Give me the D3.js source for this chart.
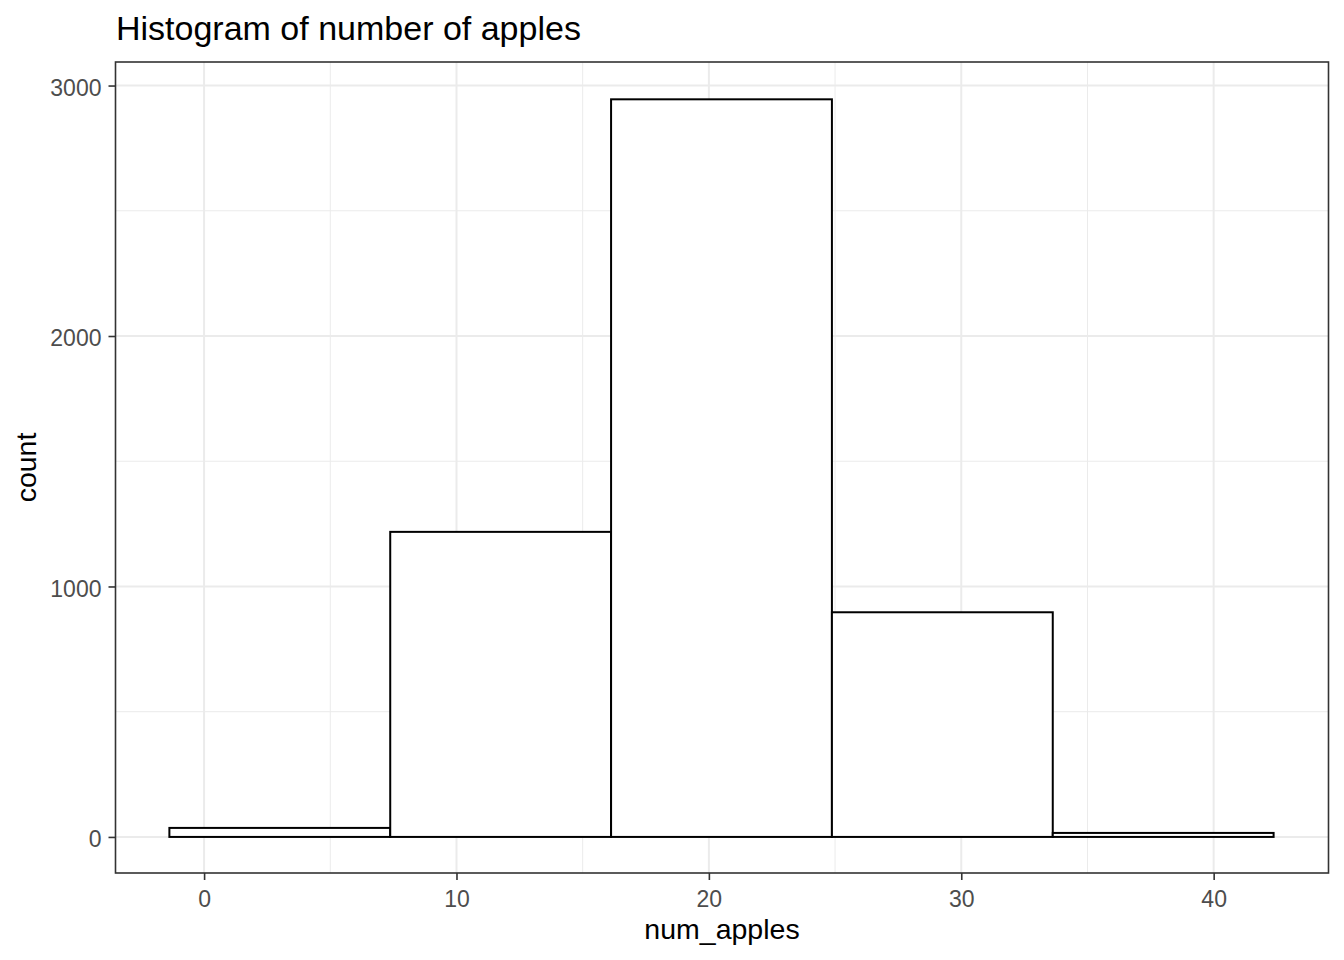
<!DOCTYPE html>
<html>
<head>
<meta charset="utf-8">
<script src="https://cdn.jsdelivr.net/npm/d3@7"></script>
<style>
  html, body { margin: 0; padding: 0; background: #fff; }
  svg { display: block; font-family: "Liberation Sans", Arial, sans-serif; }
</style>
</head>
<body>
<svg id="chart" width="1344" height="960"></svg>
<script>
// ---- data ----
const binEdges = [-1.375, 7.375, 16.125, 24.875, 33.625, 42.375];
const binCounts = [36, 1218, 2945, 897, 16];
const xTicks = [0, 10, 20, 30, 40];
const xMinor = [5, 15, 25, 35];
const yTicks = [0, 1000, 2000, 3000];
const yMinor = [500, 1500, 2500];
const titleText = "Histogram of number of apples";
const xLabel = "num_apples";
const yLabel = "count";

const bins = binCounts.map((c, i) => ({ x0: binEdges[i], x1: binEdges[i + 1], count: c }));

const panel = { left: 115.5, right: 1328.5, top: 62, bottom: 873 };

const x = d3.scaleLinear().domain([-3.51, 44.55]).range([panel.left, panel.right]);
const y = d3.scaleLinear().domain([-144, 3094]).range([panel.bottom, panel.top]);

const svg = d3.select("#chart");

// panel background
svg.append("rect")
  .attr("x", panel.left).attr("y", panel.top)
  .attr("width", panel.right - panel.left).attr("height", panel.bottom - panel.top)
  .attr("fill", "#fff");

const grid = svg.append("g");
// minor grid
grid.selectAll("line.xmin").data(xMinor).join("line")
  .attr("x1", d => x(d)).attr("x2", d => x(d))
  .attr("y1", panel.top).attr("y2", panel.bottom)
  .attr("stroke", "#EBEBEB").attr("stroke-width", 1);
grid.selectAll("line.ymin").data(yMinor).join("line")
  .attr("y1", d => y(d)).attr("y2", d => y(d))
  .attr("x1", panel.left).attr("x2", panel.right)
  .attr("stroke", "#EBEBEB").attr("stroke-width", 1);
// major grid
grid.selectAll("line.xmaj").data(xTicks).join("line")
  .attr("x1", d => x(d)).attr("x2", d => x(d))
  .attr("y1", panel.top).attr("y2", panel.bottom)
  .attr("stroke", "#EBEBEB").attr("stroke-width", 2);
grid.selectAll("line.ymaj").data(yTicks).join("line")
  .attr("y1", d => y(d)).attr("y2", d => y(d))
  .attr("x1", panel.left).attr("x2", panel.right)
  .attr("stroke", "#EBEBEB").attr("stroke-width", 2);

// bars
svg.append("g").selectAll("rect").data(bins).join("rect")
  .attr("x", d => x(d.x0))
  .attr("y", d => y(d.count))
  .attr("width", d => x(d.x1) - x(d.x0))
  .attr("height", d => y(0) - y(d.count))
  .attr("fill", "#fff")
  .attr("stroke", "#000")
  .attr("stroke-width", 2);

// panel border
svg.append("rect")
  .attr("x", panel.left).attr("y", panel.top)
  .attr("width", panel.right - panel.left).attr("height", panel.bottom - panel.top)
  .attr("fill", "none").attr("stroke", "#333333").attr("stroke-width", 1.6);

// x axis
const xAxis = d3.axisBottom(x).tickValues(xTicks).tickSize(7).tickPadding(11).tickFormat(d3.format("d"));
const gx = svg.append("g").attr("transform", `translate(0,${panel.bottom})`).call(xAxis);
gx.select(".domain").remove();
gx.selectAll(".tick line").attr("stroke", "#333333").attr("stroke-width", 1.6);
gx.selectAll(".tick text").attr("fill", "#4D4D4D").style("font-size", "23px")
  .style("font-family", "'Liberation Sans', Arial, sans-serif");

// y axis
const yAxis = d3.axisLeft(y).tickValues(yTicks).tickSize(7).tickPadding(7).tickFormat(d3.format("d"));
const gy = svg.append("g").attr("transform", `translate(${panel.left},0)`).call(yAxis);
gy.select(".domain").remove();
gy.selectAll(".tick line").attr("stroke", "#333333").attr("stroke-width", 1.6);
gy.selectAll(".tick text").attr("fill", "#4D4D4D").style("font-size", "23px")
  .attr("dy", "0.42em")
  .style("font-family", "'Liberation Sans', Arial, sans-serif");

// axis titles
svg.append("text")
  .attr("x", (panel.left + panel.right) / 2).attr("y", 939)
  .attr("text-anchor", "middle").attr("fill", "#000")
  .style("font-size", "28.5px").text(xLabel);

svg.append("text")
  .attr("transform", `translate(36,${(panel.top + panel.bottom) / 2}) rotate(-90)`)
  .attr("text-anchor", "middle").attr("fill", "#000")
  .style("font-size", "28.5px").text(yLabel);

// title
svg.append("text")
  .attr("x", 116).attr("y", 40)
  .attr("fill", "#000")
  .style("font-size", "34px").text(titleText);
</script>
</body>
</html>
